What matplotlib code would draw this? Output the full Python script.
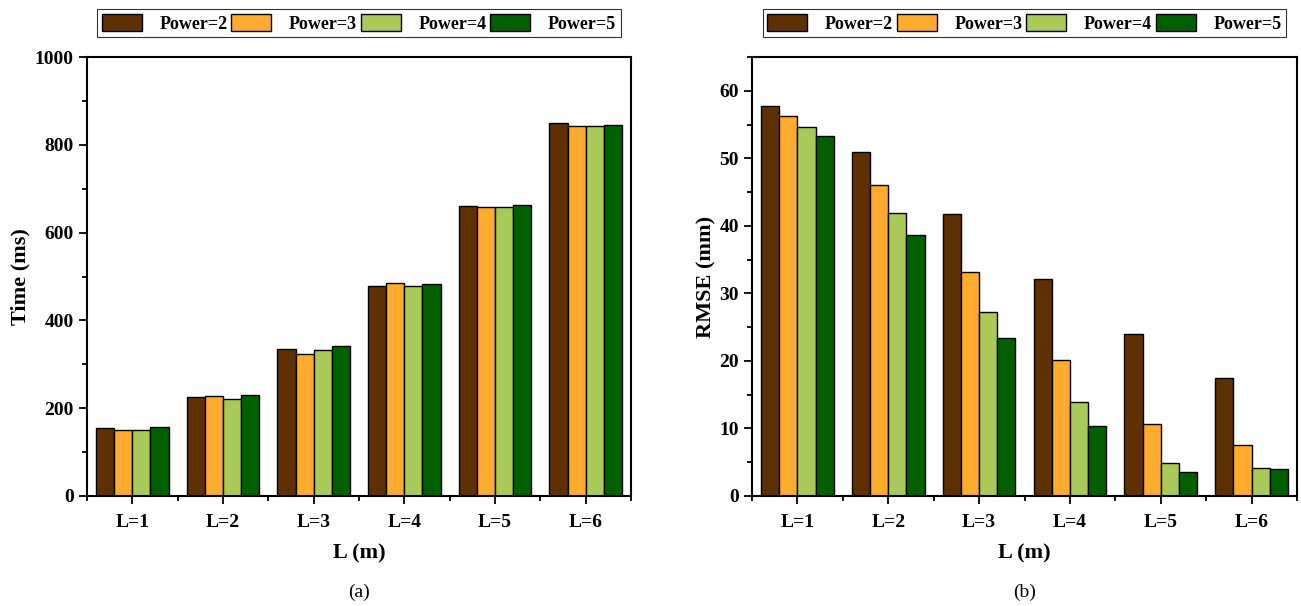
import matplotlib.pyplot as plt
from matplotlib.ticker import MultipleLocator, FixedLocator
import numpy as np

plt.rcParams['font.family'] = ['Liberation Serif', 'DejaVu Serif']

categories = ['L=1', 'L=2', 'L=3', 'L=4', 'L=5', 'L=6']
series = ['Power=2', 'Power=3', 'Power=4', 'Power=5']
colors = ['#5E3002', '#FEAB2F', '#A9CA58', '#006000']

# tiempo de ejecucion (ms)
time_p2 = [155, 225, 334, 478, 661, 850]
time_p3 = [151, 227, 324, 486, 659, 843]
time_p4 = [150, 222, 332, 478, 659, 843]
time_p5 = [157, 231, 341, 483, 664, 845]

# error RMSE (mm)
rmse_p2 = [57.7, 50.9, 41.8, 32.1, 24.0, 17.5]
rmse_p3 = [56.2, 46.1, 33.2, 20.1, 10.7, 7.6]
rmse_p4 = [54.7, 41.9, 27.2, 13.9, 4.9, 4.2]
rmse_p5 = [53.3, 38.7, 23.4, 10.4, 3.5, 4.0]


def dibujar(ax, datos, ylabel, ymax, major, minor, letra, lpad):
    x = np.arange(1, len(categories) + 1)
    w = 0.2
    for i, (vals, c, nombre) in enumerate(zip(datos, colors, series)):
        ax.bar(x + (i - 1.5) * w, vals, w, color=c, edgecolor='black',
               linewidth=1.0, label=nombre)
    ax.set_xlim(0.5, 6.5)
    ax.set_ylim(0, ymax)
    ax.set_xticks(x)
    ax.set_xticklabels(categories, fontweight='bold', fontsize=14)
    ax.xaxis.set_minor_locator(FixedLocator(np.arange(0.5, 7, 1.0)))
    ax.yaxis.set_major_locator(MultipleLocator(major))
    ax.yaxis.set_minor_locator(MultipleLocator(minor))
    for lbl in ax.get_yticklabels():
        lbl.set_fontweight('bold')
        lbl.set_fontsize(14)
    ax.tick_params(which='major', direction='out', length=6, width=1.3)
    ax.tick_params(which='minor', direction='out', length=3.5, width=1.3)
    ax.tick_params(axis='x', pad=7)
    for s in ax.spines.values():
        s.set_linewidth(1.5)
    ax.set_xlabel('L (m)', fontweight='bold', fontsize=16, labelpad=9)
    ax.set_ylabel(ylabel, fontweight='bold', fontsize=16, labelpad=lpad)
    leg = ax.legend(loc='center', bbox_to_anchor=(0.5, 1.077), ncol=4,
                    frameon=True, fancybox=False, edgecolor='black',
                    prop={'weight': 'bold', 'size': 13},
                    handlelength=2.2, handleheight=1.1, handletextpad=1.0,
                    columnspacing=0.2, borderpad=0.25, borderaxespad=0)
    leg.get_frame().set_linewidth(0.8)
    ax.text(0.5, -0.219, letra, transform=ax.transAxes, ha='center',
            va='center', fontsize=14)


fig = plt.figure(figsize=(13.01, 6.06), dpi=100)
ax1 = fig.add_axes([87 / 1301, 110 / 606, 544 / 1301, 439 / 606])
ax2 = fig.add_axes([752 / 1301, 110 / 606, 545 / 1301, 439 / 606])

dibujar(ax1, [time_p2, time_p3, time_p4, time_p5], 'Time (ms)', 1000, 200, 100, '(a)', 3)
dibujar(ax2, [rmse_p2, rmse_p3, rmse_p4, rmse_p5], 'RMSE (mm)', 65, 10, 5, '(b)', 2)

fig.savefig('out.png', dpi=100)
